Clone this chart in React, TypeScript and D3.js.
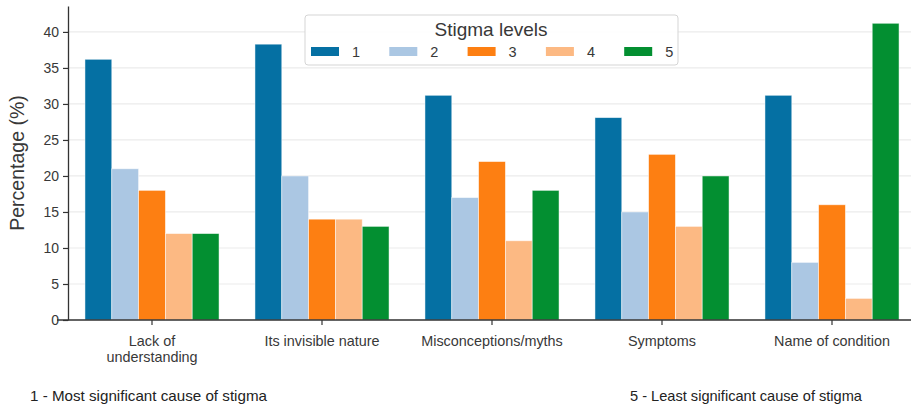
import { useEffect, useRef } from "react";
import * as d3 from "d3";

const categories = [
  "Lack of understanding",
  "Its invisible nature",
  "Misconceptions/myths",
  "Symptoms",
  "Name of condition",
];
const categoryLines = [
  ["Lack of", "understanding"],
  ["Its invisible nature"],
  ["Misconceptions/myths"],
  ["Symptoms"],
  ["Name of condition"],
];
const levels = ["1", "2", "3", "4", "5"];
const level1 = [36.2, 38.3, 31.2, 28.1, 31.2];
const level2 = [21, 20, 17, 15, 8];
const level3 = [18, 14, 22, 23, 16];
const level4 = [12, 14, 11, 13, 3];
const level5 = [12, 13, 18, 20, 41.2];
const yTicks = [0, 5, 10, 15, 20, 25, 30, 35, 40];
const colors = ["#0570a3", "#abc7e3", "#fd7f12", "#fcb983", "#038f31"];

const W = 911;
const H = 408;

const App = () => {
  const svgRef = useRef<SVGSVGElement | null>(null);

  useEffect(() => {
    const series = [level1, level2, level3, level4, level5];
    const font = "'Liberation Sans', Arial, sans-serif";
    const text = "#383838";

    const svg = d3.select(svgRef.current);
    svg.selectAll("*").remove();
    svg.attr("width", W).attr("height", H).style("font-family", font);

    const margin = { top: 6, left: 68, bottom: 320 };

    const y = d3.scaleLinear().domain([0, 43.6]).range([margin.bottom, margin.top]);
    const x = d3.scaleBand().domain(categories).range([67, 917]).padding(0);
    const xInner = d3
      .scaleBand()
      .domain(levels)
      .range([0, x.bandwidth()])
      .paddingOuter(0.67)
      .paddingInner(0);

    // grid
    svg
      .append("g")
      .selectAll("line")
      .data(yTicks)
      .join("line")
      .attr("x1", margin.left)
      .attr("x2", W)
      .attr("y1", (d) => y(d))
      .attr("y2", (d) => y(d))
      .attr("stroke", "#ebebeb")
      .attr("stroke-width", 1.2);

    // bars
    categories.forEach((c, ci) => {
      svg
        .append("g")
        .attr("transform", `translate(${x(c)},0)`)
        .selectAll("rect")
        .data(levels)
        .join("rect")
        .attr("x", (l) => xInner(l) ?? 0)
        .attr("y", (l, li) => y(series[li][ci]))
        .attr("width", xInner.bandwidth())
        .attr("height", (l, li) => y(0) - y(series[li][ci]))
        .attr("fill", (l, li) => colors[li])
        .attr("stroke", "#fff")
        .attr("stroke-width", 0.8)
        .attr("stroke-opacity", 0.6);
    });

    // y axis
    svg
      .append("g")
      .attr("transform", `translate(${margin.left},0)`)
      .call(d3.axisLeft(y).tickValues(yTicks).tickSize(5).tickSizeOuter(0))
      .call((g) => {
        g.select(".domain").attr("stroke", "#333").attr("stroke-width", 1.3);
        g.selectAll(".tick line").attr("stroke", "#333").attr("stroke-width", 1.2);
        g.selectAll("text")
          .attr("fill", text)
          .attr("font-size", 14)
          .attr("font-family", font)
          .attr("x", -9);
      });

    // x axis
    const xAxis = svg.append("g").attr("transform", `translate(0,${margin.bottom})`);
    xAxis
      .append("line")
      .attr("x1", 57)
      .attr("x2", W)
      .attr("stroke", "#333")
      .attr("stroke-width", 1.3);
    categories.forEach((c, ci) => {
      const cx = (x(c) ?? 0) + x.bandwidth() / 2;
      xAxis
        .append("line")
        .attr("x1", cx)
        .attr("x2", cx)
        .attr("y1", 0)
        .attr("y2", 5)
        .attr("stroke", "#333")
        .attr("stroke-width", 1.2);
      const t = xAxis
        .append("text")
        .attr("x", cx)
        .attr("y", 26)
        .attr("text-anchor", "middle")
        .attr("fill", text)
        .attr("font-size", 14.4);
      categoryLines[ci].forEach((line, i) => {
        t.append("tspan").attr("x", cx).attr("dy", i === 0 ? 0 : 16).text(line);
      });
    });

    // y label
    svg
      .append("text")
      .attr("transform", `translate(24,${(y(0) + y(43.6)) / 2}) rotate(-90)`)
      .attr("text-anchor", "middle")
      .attr("fill", text)
      .attr("font-size", 19.5)
      .text("Percentage (%)");

    // legend
    const lg = svg.append("g");
    lg.append("rect")
      .attr("x", 305)
      .attr("y", 15)
      .attr("width", 373)
      .attr("height", 50)
      .attr("rx", 3)
      .attr("fill", "#fff")
      .attr("fill-opacity", 0.9)
      .attr("stroke", "#d5d5d5");
    lg.append("text")
      .attr("x", 491)
      .attr("y", 36)
      .attr("text-anchor", "middle")
      .attr("fill", text)
      .attr("font-size", 19)
      .text("Stigma levels");
    levels.forEach((l, i) => {
      const lx = 311 + i * 78.3;
      lg.append("rect")
        .attr("x", lx)
        .attr("y", 47)
        .attr("width", 28)
        .attr("height", 9)
        .attr("fill", colors[i]);
      lg.append("text")
        .attr("x", lx + 41)
        .attr("y", 57)
        .attr("fill", text)
        .attr("font-size", 14.5)
        .text(l);
    });

    // footnotes
    svg
      .append("text")
      .attr("x", 30)
      .attr("y", 401)
      .attr("fill", "#222")
      .attr("font-size", 15)
      .attr("textLength", 237)
      .attr("lengthAdjust", "spacingAndGlyphs")
      .text("1 - Most significant cause of stigma");
    svg
      .append("text")
      .attr("x", 630)
      .attr("y", 401)
      .attr("fill", "#222")
      .attr("font-size", 15)
      .attr("textLength", 232)
      .attr("lengthAdjust", "spacingAndGlyphs")
      .text("5 - Least significant cause of stigma");
  }, []);

  return (
    <svg
      ref={svgRef}
      style={{ position: "absolute", left: 0, top: 0, display: "block", background: "#fff" }}
    />
  );
};

export default App;
